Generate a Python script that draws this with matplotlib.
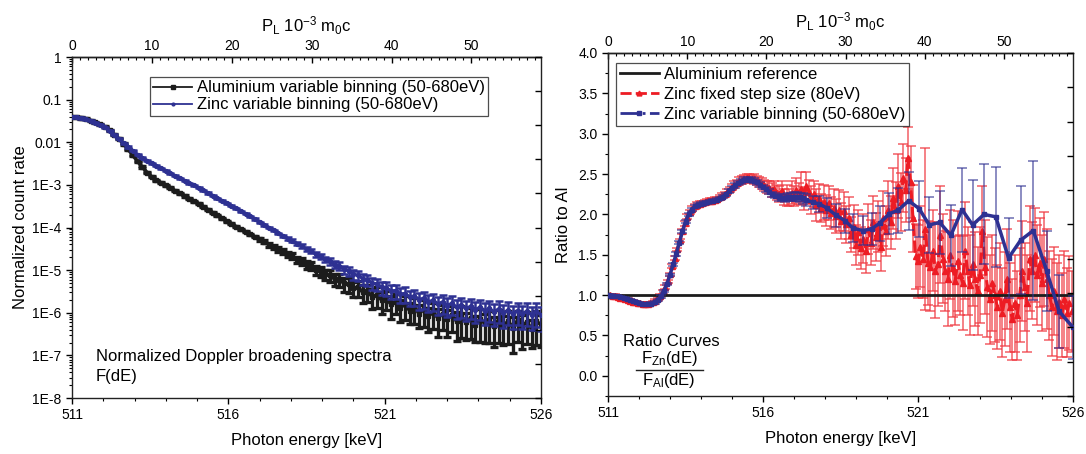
import numpy as np
import matplotlib
matplotlib.use('Agg')
import matplotlib.pyplot as plt
from matplotlib.lines import Line2D
from matplotlib.ticker import FixedLocator, FixedFormatter, MultipleLocator, NullFormatter, LogLocator, FormatStrFormatter

plt.rcParams['font.family'] = ['Liberation Sans', 'DejaVu Sans']
plt.rcParams['mathtext.fontset'] = 'custom'
plt.rcParams['mathtext.rm'] = 'Liberation Sans'
plt.rcParams['mathtext.it'] = 'Liberation Sans'
plt.rcParams['mathtext.default'] = 'regular'

# ---------------- data: left panel (normalized spectra) ----------------
spec_energy = np.linspace(511.0, 526.0, 101)   # keV, variable-binning centres (approx.)

al_log_rate = [
    -1.40, -1.41, -1.43, -1.45, -1.49, -1.53, -1.58, -1.64, -1.72, -1.82,
    -1.92, -2.04, -2.17, -2.31, -2.45, -2.58, -2.71, -2.81, -2.89, -2.95,
    -3.01, -3.07, -3.14, -3.20, -3.26, -3.32, -3.38, -3.44, -3.51, -3.58,
    -3.65, -3.71, -3.78, -3.85, -3.91, -3.98, -4.04, -4.10, -4.16, -4.22,
    -4.28, -4.33, -4.40, -4.45, -4.51, -4.55, -4.63, -4.67, -4.75, -4.79,
    -4.87, -4.90, -4.99, -5.02, -5.10, -5.12, -5.21, -5.22, -5.31, -5.33,
    -5.42, -5.40, -5.52, -5.50, -5.62, -5.58, -5.70, -5.66, -5.80, -5.74,
    -5.88, -5.80, -5.95, -5.86, -6.02, -5.92, -6.08, -5.98, -6.12, -6.02,
    -6.15, -6.05, -6.20, -6.08, -6.22, -6.12, -6.28, -6.14, -6.25, -6.18,
    -6.32, -6.16, -6.30, -6.20, -6.35, -6.18, -6.30, -6.22, -6.38, -6.20,
    -6.28]
al_rel_err = [0.03] * 40 + [
    0.08, 0.09, 0.10, 0.11, 0.12, 0.13, 0.14, 0.15, 0.16, 0.18,
    0.20, 0.22, 0.24, 0.26, 0.28, 0.30, 0.32, 0.34, 0.36, 0.38,
    0.40, 0.42, 0.45, 0.43, 0.48, 0.50, 0.52, 0.48, 0.55, 0.50,
    0.55, 0.58, 0.52, 0.60, 0.55, 0.62, 0.58, 0.60, 0.65, 0.58,
    0.62, 0.60, 0.65, 0.70, 0.62, 0.68, 0.60, 0.72, 0.65, 0.70,
    0.68, 0.72, 0.65, 0.70, 0.75, 0.68, 0.72, 0.70, 0.65, 0.72, 0.70]

zn_log_rate = [
    -1.40, -1.41, -1.43, -1.46, -1.49, -1.54, -1.59, -1.65, -1.73, -1.82,
    -1.92, -2.02, -2.11, -2.20, -2.29, -2.36, -2.43, -2.49, -2.55, -2.61,
    -2.67, -2.73, -2.79, -2.85, -2.90, -2.96, -3.01, -3.07, -3.13, -3.19,
    -3.25, -3.31, -3.37, -3.43, -3.49, -3.55, -3.62, -3.68, -3.74, -3.80,
    -3.88, -3.94, -4.00, -4.06, -4.14, -4.19, -4.26, -4.31, -4.38, -4.43,
    -4.51, -4.55, -4.63, -4.67, -4.75, -4.79, -4.87, -4.90, -4.98, -5.02,
    -5.10, -5.12, -5.20, -5.22, -5.31, -5.32, -5.40, -5.41, -5.49, -5.48,
    -5.56, -5.55, -5.63, -5.61, -5.69, -5.66, -5.74, -5.71, -5.79, -5.75,
    -5.83, -5.78, -5.87, -5.82, -5.90, -5.85, -5.93, -5.87, -5.96, -5.90,
    -5.98, -5.91, -6.01, -5.94, -6.03, -5.95, -6.04, -5.96, -6.05, -5.97,
    -6.05]
zn_rel_err = [0.03] * 45 + [
    0.06, 0.07, 0.08, 0.09, 0.10, 0.11, 0.12, 0.13, 0.14, 0.15,
    0.17, 0.19, 0.20, 0.22, 0.24, 0.25, 0.27, 0.28, 0.30, 0.31,
    0.32, 0.34, 0.35, 0.36, 0.38, 0.38, 0.40, 0.40, 0.42, 0.42,
    0.43, 0.44, 0.45, 0.45, 0.46, 0.47, 0.48, 0.48, 0.49, 0.50,
    0.50, 0.50, 0.51, 0.52, 0.52, 0.53, 0.53, 0.54, 0.54, 0.55,
    0.55, 0.55, 0.56, 0.56, 0.57, 0.57]

left_ytick_vals = [1e-8, 1e-7, 1e-6, 1e-5, 1e-4, 1e-3, 1e-2, 1e-1, 1.0]
left_ytick_labels = ['1E-8', '1E-7', '1E-6', '1E-5', '1E-4', '1E-3', '0.01', '0.1', '1']

# ---------------- data: right panel (ratio curves) ----------------
ratio_ref_level = 1.0

red_energy = np.arange(188) * 0.08 + 511.0     # fixed 80 eV steps
red_ratio = [
    1.00, 1.00, 0.99, 0.99, 0.98, 0.97, 0.96, 0.95, 0.94, 0.93,
    0.92, 0.91, 0.90, 0.90, 0.89, 0.89, 0.89, 0.90, 0.91, 0.93,
    0.96, 0.99, 1.04, 1.10, 1.17, 1.26, 1.36, 1.46, 1.57, 1.68,
    1.79, 1.89, 1.97, 2.03, 2.07, 2.10, 2.12, 2.13, 2.14, 2.15,
    2.16, 2.17, 2.17, 2.18, 2.19, 2.21, 2.23, 2.25, 2.28, 2.31,
    2.34, 2.37, 2.39, 2.41, 2.43, 2.44, 2.45, 2.45, 2.44, 2.44,
    2.42, 2.40, 2.38, 2.36, 2.34, 2.33, 2.30, 2.32, 2.27, 2.25,
    2.29, 2.22, 2.24, 2.21, 2.27, 2.23, 2.30, 2.26, 2.32, 2.20,
    2.35, 2.28, 2.18, 2.25, 2.12, 2.20, 2.08, 2.15, 2.05, 2.14,
    2.02, 2.08, 1.98, 2.05, 1.92, 2.04, 1.88, 1.95, 1.75, 1.85,
    1.62, 1.78, 1.58, 1.70, 1.55, 1.82, 1.65, 1.90, 1.72, 1.85,
    1.60, 1.95, 1.80, 2.05, 1.90, 2.20, 2.05, 2.35, 2.15, 2.45,
    2.30, 2.70, 2.40, 1.95, 1.48, 1.42, 1.60, 1.45, 1.82, 1.40,
    1.35, 1.55, 1.30, 1.38, 1.75, 1.45, 1.30, 1.20, 1.50, 1.33,
    1.18, 1.42, 1.25, 1.15, 1.55, 1.30, 1.12, 1.38, 1.20, 1.05,
    1.25, 1.80, 1.35, 1.10, 0.95, 1.15, 1.00, 0.85, 1.05, 0.78,
    0.95, 1.20, 0.85, 0.70, 0.90, 0.75, 1.00, 1.30, 1.10, 0.90,
    1.45, 1.30, 1.50, 1.25, 1.40, 1.15, 1.45, 1.20, 1.00, 0.85,
    1.05, 0.80, 0.92, 0.75, 0.95, 0.78, 0.90, 0.80]
red_err = [0.02] * 30 + [0.03] * 20 + [
    0.04, 0.04, 0.04, 0.05, 0.05, 0.05, 0.05, 0.05, 0.05, 0.06,
    0.06, 0.06, 0.07, 0.07, 0.08, 0.08, 0.09, 0.10, 0.09, 0.10,
    0.12, 0.10, 0.13, 0.11, 0.14, 0.12, 0.15, 0.13, 0.20, 0.14,
    0.18, 0.15, 0.17, 0.16, 0.20, 0.18, 0.17, 0.22, 0.19, 0.21,
    0.20, 0.23, 0.21, 0.25, 0.22, 0.24, 0.23, 0.26, 0.22, 0.27,
    0.25, 0.28, 0.26, 0.30, 0.27, 0.31, 0.28, 0.33, 0.30, 0.32,
    0.30, 0.34, 0.31, 0.36, 0.33, 0.38, 0.35, 0.40, 0.36, 0.42,
    0.40, 0.38, 0.45, 0.42, 0.40, 0.45, 0.50, 0.48, 1.00, 0.52,
    0.55, 0.50, 0.58, 0.52, 0.60, 0.55, 0.50, 0.58, 0.55, 0.60,
    0.55, 0.62, 0.50, 0.58, 0.60, 0.55, 0.62, 0.52, 0.58, 0.55,
    0.60, 0.55, 0.58, 0.62, 0.55, 0.60, 0.58, 0.52, 0.60, 0.55,
    0.58, 0.62, 0.55, 0.50, 0.60, 0.55, 0.58, 0.62, 0.55, 0.60,
    0.65, 0.60, 0.58, 0.62, 0.55, 0.60, 0.58, 0.62, 0.55, 0.60,
    0.55, 0.60, 0.58, 0.52, 0.60, 0.55, 0.58, 0.50]

blue_energy = [
    511.0, 511.1, 511.2, 511.3, 511.4, 511.5, 511.6, 511.7, 511.8, 511.9,
    512.0, 512.1, 512.2, 512.3, 512.4, 512.5, 512.6, 512.7, 512.8, 512.9,
    513.0, 513.1, 513.2, 513.3, 513.4, 513.5, 513.6, 513.7, 513.8, 513.9,
    514.0, 514.1, 514.2, 514.3, 514.4, 514.5, 514.6, 514.7, 514.8, 514.9,
    515.0, 515.1, 515.2, 515.3, 515.4, 515.5, 515.6, 515.7, 515.8, 515.9,
    516.0, 516.1, 516.2, 516.3, 516.4, 516.5, 516.6, 516.7, 516.8, 516.9,
    517.0, 517.1, 517.2, 517.3, 517.4,
    517.6, 517.82, 518.05, 518.36, 518.65, 518.9, 519.22, 519.5, 519.76, 520.08,
    520.35, 520.7, 521.04, 521.36, 521.7, 522.06, 522.42, 522.76, 523.13, 523.51,
    523.92, 524.31, 524.72, 525.15, 525.55, 526.0]
blue_ratio = [
    1.00, 0.995, 0.99, 0.985, 0.975, 0.965, 0.953, 0.94, 0.925, 0.912,
    0.90, 0.892, 0.888, 0.888, 0.895, 0.91, 0.94, 0.985, 1.05, 1.14,
    1.25, 1.38, 1.51, 1.65, 1.79, 1.91, 2.00, 2.06, 2.10, 2.12,
    2.13, 2.14, 2.15, 2.16, 2.17, 2.18, 2.20, 2.22, 2.25, 2.29,
    2.33, 2.36, 2.39, 2.41, 2.43, 2.43, 2.43, 2.42, 2.40, 2.37,
    2.34, 2.31, 2.28, 2.25, 2.23, 2.21, 2.20, 2.20, 2.21, 2.21,
    2.22, 2.22, 2.21, 2.20, 2.18,
    2.15, 2.13, 2.08, 1.99, 1.92, 1.83, 1.80, 1.82, 1.89, 2.01,
    2.05, 2.17, 2.07, 1.87, 1.90, 1.74, 2.06, 1.87, 2.00, 1.97,
    1.46, 1.68, 1.80, 1.30, 0.80, 0.60]
blue_err = [0.015] * 21 + [0.02] * 20 + [0.03] * 14 + [
    0.04, 0.04, 0.05, 0.05, 0.05, 0.06, 0.06, 0.06, 0.07, 0.07,
    0.08, 0.10, 0.12, 0.14, 0.15, 0.17, 0.18, 0.20, 0.22, 0.25,
    0.28, 0.36, 0.35, 0.35, 0.39, 0.38, 0.52, 0.56, 0.62, 0.62,
    0.50, 0.67, 0.86, 0.50, 0.45, 0.39]

# ---------------- figure ----------------
W, H = 1086, 454
fig = plt.figure(figsize=(W / 100, H / 100), dpi=100)


def box(x0, y0, x1, y1):
    return [x0 / W, 1 - y1 / H, (x1 - x0) / W, (y1 - y0) / H]


def fxy(x, y):
    return x / W, 1 - y / H


BLACK = '#1c1c1c'
BLUE = '#2e3192'
RED = '#ed1c24'
TICK_FS = 10
LAB_FS = 12


def e2p(e):
    return (np.asarray(e) - 511.0) * 2000.0 / 511.0


def p2e(p):
    return np.asarray(p) * 511.0 / 2000.0 + 511.0


def style_common(ax):
    for s in ax.spines.values():
        s.set_linewidth(1.0)
        s.set_color('#222222')
    ax.set_xlim(511, 526)
    ax.xaxis.set_major_locator(FixedLocator([511, 516, 521, 526]))
    ax.xaxis.set_minor_locator(MultipleLocator(1))
    ax.tick_params(axis='x', which='major', direction='out', length=4, width=1.0,
                   labelsize=TICK_FS, top=False, pad=3)
    ax.tick_params(axis='x', which='minor', direction='out', length=2.5, width=0.8, top=False)
    ax.tick_params(axis='y', which='major', direction='out', length=4, width=1.0,
                   labelsize=TICK_FS, right=False)
    ax.tick_params(axis='y', which='minor', direction='out', length=2.5, width=0.8, right=False)
    ax.set_xlabel('Photon energy [keV]', fontsize=LAB_FS, labelpad=8)
    sec = ax.secondary_xaxis('top', functions=(e2p, p2e))
    sec.xaxis.set_major_locator(FixedLocator([0, 10, 20, 30, 40, 50]))
    sec.xaxis.set_minor_locator(MultipleLocator(1))
    sec.tick_params(axis='x', which='major', direction='in', length=4, width=1.0,
                    labelsize=TICK_FS, pad=3)
    sec.tick_params(axis='x', which='minor', direction='in', length=2, width=0.8)
    sec.spines['top'].set_linewidth(1.0)
    sec.set_xlabel(r'P$_\mathregular{L}$ 10$^\mathregular{-3}$ m$_\mathregular{0}$c',
                   fontsize=LAB_FS, labelpad=5)
    tw = ax.twinx()
    tw.set_ylim(0, 10)
    tw.yaxis.set_major_locator(FixedLocator(list(range(11))))
    tw.tick_params(axis='y', direction='in', length=4, width=1.0, labelright=False)
    for s in tw.spines.values():
        s.set_visible(False)
    return sec


# ---- left panel ----
ax1 = fig.add_axes(box(72, 57, 541, 398))
ax1.set_yscale('log')
ax1.set_ylim(1e-8, 1)
al_rate = 10.0 ** np.array(al_log_rate)
zn_rate = 10.0 ** np.array(zn_log_rate)
ax1.errorbar(spec_energy, al_rate, yerr=al_rate * np.array(al_rel_err), fmt='-s',
             color=BLACK, ms=3.5, lw=2.6, elinewidth=2.4, capsize=3, capthick=2.4, zorder=3)
ax1.errorbar(spec_energy, zn_rate, yerr=zn_rate * np.array(zn_rel_err), fmt='-o',
             color=BLUE, ms=2.8, lw=2.4, elinewidth=1.8, capsize=3, capthick=1.8, zorder=4)
ax1.yaxis.set_major_locator(FixedLocator(left_ytick_vals))
ax1.yaxis.set_major_formatter(FixedFormatter(left_ytick_labels))
ax1.yaxis.set_minor_locator(LogLocator(base=10, subs=np.arange(2, 10)))
ax1.yaxis.set_minor_formatter(NullFormatter())
style_common(ax1)
ax1.set_ylabel('Normalized count rate', fontsize=LAB_FS, labelpad=3)

h_al = Line2D([], [], color=BLACK, lw=1.3, marker='s', ms=2.5)
h_zn = Line2D([], [], color=BLUE, lw=1.3, marker='o', ms=2.0)
leg1 = ax1.legend([h_al, h_zn],
                  ['Aluminium variable binning (50-680eV)', 'Zinc variable binning (50-680eV)'],
                  loc='upper left', bbox_to_anchor=((150 - 72) / 469, 1 - (77 - 57) / 341),
                  fontsize=LAB_FS, frameon=True, fancybox=False, edgecolor='#222222',
                  borderpad=0.2, handlelength=2.3, handletextpad=0.3, labelspacing=0.12,
                  borderaxespad=0)
leg1.get_frame().set_linewidth(0.9)

fig.text(*fxy(96, 357), 'Normalized Doppler broadening spectra', fontsize=LAB_FS,
         ha='left', va='center')
fig.text(*fxy(96, 376), 'F(dE)', fontsize=LAB_FS, ha='left', va='center')

# ---- right panel ----
ax2 = fig.add_axes(box(608, 53, 1073, 396))
ax2.set_ylim(-0.25, 4.0)
ax2.errorbar(red_energy, red_ratio, yerr=red_err, fmt='--^', color=RED, ms=4.5, lw=2.2,
             dashes=(4, 1.5), ecolor=(0.94, 0.22, 0.25, 0.8), elinewidth=1.1,
             capsize=3.5, capthick=1.1, zorder=2)
ax2.axhline(ratio_ref_level, color=BLACK, lw=2.0, zorder=2.5)
ax2.errorbar(blue_energy, blue_ratio, yerr=blue_err, fmt='-s', color=BLUE, ms=2.8, lw=2.5,
             ecolor=(0.18, 0.19, 0.57, 0.7), elinewidth=1.1, capsize=3.5, capthick=1.1, zorder=3)
ax2.yaxis.set_major_locator(MultipleLocator(0.5))
ax2.yaxis.set_minor_locator(MultipleLocator(0.25))
ax2.yaxis.set_major_formatter(FormatStrFormatter('%.1f'))
style_common(ax2)
ax2.set_ylim(-0.25, 4.0)
ax2.set_ylabel('Ratio to Al', fontsize=LAB_FS, labelpad=5)

h_ref = Line2D([], [], color=BLACK, lw=2.0)
h_red = Line2D([], [], color=RED, lw=2.0, ls=(0, (4, 1.5)), marker='^', ms=3.5, markevery=[1],
               markerfacecolor=RED, markeredgecolor=RED)
h_blue = Line2D([], [], color=BLUE, lw=2.0, ls='-.', marker='s', ms=2.5, markevery=[1])
leg2 = ax2.legend([h_ref, h_red, h_blue],
                  ['Aluminium reference', 'Zinc fixed step size (80eV)',
                   'Zinc variable binning (50-680eV)'],
                  loc='upper left', bbox_to_anchor=((616 - 608) / 465, 1 - (63 - 53) / 343),
                  fontsize=LAB_FS, frameon=True, fancybox=False, edgecolor='#222222',
                  borderpad=0.25, handlelength=2.3, handletextpad=0.3, labelspacing=0.3,
                  borderaxespad=0)
leg2.get_frame().set_linewidth(0.9)

fig.text(*fxy(623, 341), 'Ratio Curves', fontsize=LAB_FS, ha='left', va='center')
fig.text(*fxy(669, 359), r'F$_\mathregular{Zn}$(dE)', fontsize=LAB_FS, ha='center', va='center')
fig.text(*fxy(669, 381), r'F$_\mathregular{Al}$(dE)', fontsize=LAB_FS, ha='center', va='center')
x0, y0 = fxy(636, 370)
x1, _ = fxy(703, 370)
fig.add_artist(Line2D([x0, x1], [y0, y0], transform=fig.transFigure, color='#222222', lw=1.0))

fig.savefig('out.png', dpi=100)
